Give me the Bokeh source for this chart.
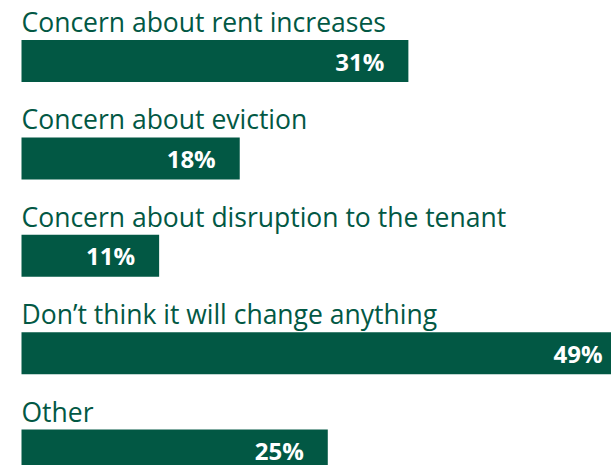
from bokeh.plotting import figure
from bokeh.models import ColumnDataSource, Range1d
from bokeh.core.properties import value
from bokeh.embed import file_html
from bokeh.resources import INLINE

categories = [
    "Concern about rent increases",
    "Concern about eviction",
    "Concern about disruption to the tenant",
    "Don\u2019t think it will change anything",
    "Other",
]
values = [31.2, 17.6, 11.1, 48.8, 24.7]
value_labels = ["31%", "18%", "11%", "49%", "25%"]

GREEN = "#025844"
W, H = 611, 465
px_per_unit_x = 12.4
left_pad = 21
row_px = 97.4
first_center_px = 60.5
bar_px = 42
label_gap_px = 18  # from bar top up to label's middle

idx = list(range(len(categories)))
bar_h = bar_px / row_px
label_y = [i - bar_h / 2 - label_gap_px / row_px for i in idx]

src = ColumnDataSource(dict(y=idx, v=values, lab=value_labels, cat=categories, ly=label_y))

p = figure(
    width=W, height=H, output_backend="svg", toolbar_location=None,
    x_range=Range1d(-left_pad / px_per_unit_x, (W - left_pad) / px_per_unit_x),
    y_range=Range1d((H - first_center_px) / row_px, -first_center_px / row_px),
    min_border=0, outline_line_color=None, background_fill_color="white",
)
p.axis.visible = False
p.grid.visible = False

p.hbar(y="y", left=0, right="v", height=bar_h, source=src, fill_color=GREEN, line_color=None)
p.text(x=0, y="ly", text="cat", source=src, text_align="left", text_baseline="middle",
       text_font=value("Open Sans"), text_font_size="26.5px", text_color=GREEN)
p.text(x="v", y="y", text="lab", source=src, x_offset=-24, text_align="right", text_baseline="middle",
       text_font=value("Open Sans"), text_font_style="bold", text_font_size="24px", text_color="white")

open("out.html", "w").write(file_html(p, INLINE))
